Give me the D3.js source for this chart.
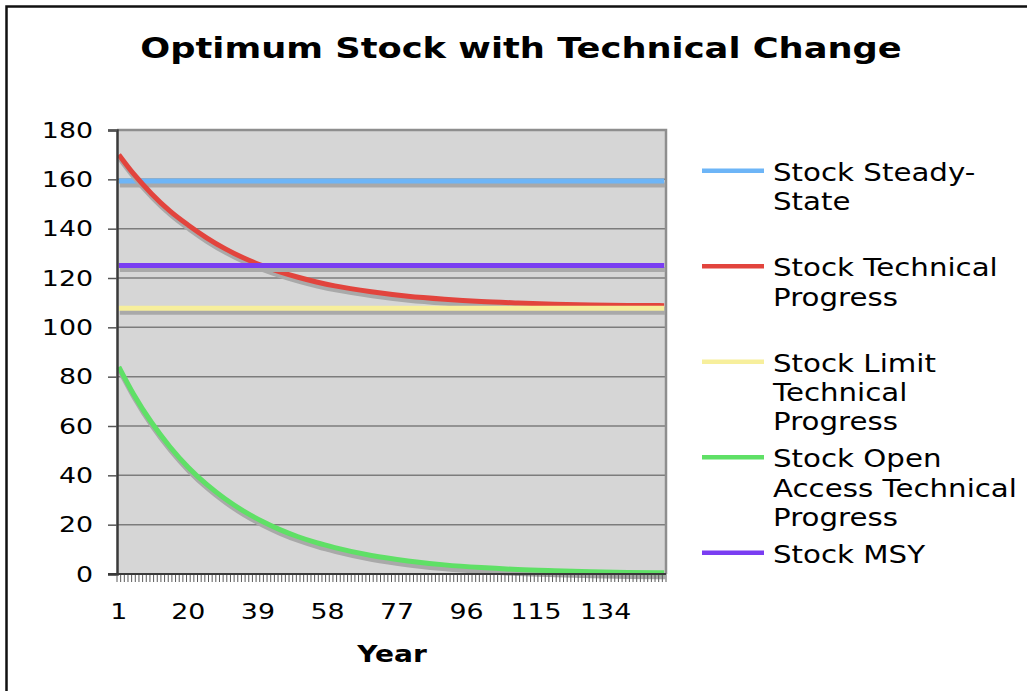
<!DOCTYPE html>
<html>
<head>
<meta charset="utf-8">
<script src="https://cdn.jsdelivr.net/npm/d3@7"></script>
<style>
    body { margin: 0; background: #fff; }
    text { font-family: "DejaVu Sans", Verdana, sans-serif; fill: #000; }
</style>
</head>
<body>
<div id="chart"></div>
<script>

// categories (years 1..150) and labelled ticks
let years = d3.range(1, 151);
let tickYears = [1, 20, 39, 58, 77, 96, 115, 134];
let yTicks = [0, 20, 40, 60, 80, 100, 120, 140, 160, 180];

let sampleYears = [1, 5, 10, 15, 20, 25, 30, 35, 40, 45, 50, 55, 60, 70, 80, 90, 100, 110, 120, 130, 140, 150];
let stockTechProgress = [170, 162.3, 154.1, 147.1, 141.4, 136.3, 131.9, 128.2, 125.1, 122.5, 120.3, 118.4, 116.8, 114.4, 112.6, 111.4, 110.5, 109.9, 109.4, 109.1, 108.9, 108.8];
let stockOpenAccess = [84, 73.0, 61.3, 51.5, 43.2, 36.3, 30.5, 25.6, 21.5, 18.0, 15.1, 12.7, 10.7, 7.5, 5.3, 3.7, 2.6, 1.8, 1.3, 0.9, 0.6, 0.5];

// flat series
let stockSteadyState = 159.3;
let stockLimit = 107.7;
let stockMSY = 125.1;

let seriesNames = ["Stock Steady-State", "Stock Technical Progress", "Stock Limit Technical Progress", "Stock Open Access Technical Progress", "Stock MSY"];
let legendLines = [["Stock Steady-", "State"], ["Stock Technical", "Progress"], ["Stock Limit", "Technical", "Progress"], ["Stock Open", "Access Technical", "Progress"], ["Stock MSY"]];
let seriesColors = ["#6db5f7", "#e2443d", "#f7ef9c", "#5fe066", "#7a3df2"];

// text in the picture is stretched sideways
const SX = 1.22;

class LineVis {

    constructor(parentElement) {
        this.parentElement = parentElement;
        this.initVis();
    }

    initVis() {
        let vis = this;

        vis.width = 1027;
        vis.height = 691;
        vis.plot = {left: 117, right: 666, top: 130, bottom: 574};

        vis.svg = d3.select("#" + vis.parentElement).append("svg")
            .attr("width", vis.width)
            .attr("height", vis.height);

        // outer frame, runs off the right and bottom edge
        vis.svg.append("rect")
            .attr("x", 6.5).attr("y", 6.5)
            .attr("width", 1200).attr("height", 900)
            .attr("fill", "#fff")
            .attr("stroke", "#111")
            .attr("stroke-width", 2.5);

        vis.x = d3.scaleBand()
            .domain(years)
            .range([vis.plot.left, vis.plot.right])
            .padding(0);

        vis.y = d3.scaleLinear()
            .domain([0, 180])
            .range([vis.plot.bottom, vis.plot.top]);

        vis.cx = d => vis.x(d) + vis.x.bandwidth() / 2;

        // title
        vis.svg.append("text")
            .attr("transform", `translate(521, 58) scale(1.26,1)`)
            .attr("text-anchor", "middle")
            .style("font-weight", "bold")
            .style("font-size", "28px")
            .text("Optimum Stock with Technical Change");

        // plot background
        vis.svg.append("rect")
            .attr("x", vis.plot.left).attr("y", vis.plot.top)
            .attr("width", vis.plot.right - vis.plot.left)
            .attr("height", vis.plot.bottom - vis.plot.top)
            .attr("fill", "#d6d6d6");

        // gridlines
        vis.svg.append("g").selectAll("line")
            .data(yTicks.slice(1))
            .enter().append("line")
            .attr("x1", vis.plot.left).attr("x2", vis.plot.right)
            .attr("y1", d => vis.y(d)).attr("y2", d => vis.y(d))
            .attr("stroke", "#7c7c7c")
            .attr("stroke-width", 1.5);

        // plot border top + right (gray)
        vis.svg.append("path")
            .attr("d", `M${vis.plot.left},${vis.plot.top}H${vis.plot.right}V${vis.plot.bottom}`)
            .attr("fill", "none")
            .attr("stroke", "#8e8e8e")
            .attr("stroke-width", 2.5);

        vis.wrangleData();
    }

    wrangleData() {
        let vis = this;

        let curve = vals => sampleYears.map((yr, i) => ({year: yr, value: vals[i]}));
        let flat = v => [{year: years[0], value: v}, {year: years[years.length - 1], value: v}];

        vis.series = [
            {name: seriesNames[0], color: seriesColors[0], values: flat(stockSteadyState)},
            {name: seriesNames[1], color: seriesColors[1], values: curve(stockTechProgress)},
            {name: seriesNames[2], color: seriesColors[2], values: flat(stockLimit)},
            {name: seriesNames[3], color: seriesColors[3], values: curve(stockOpenAccess)},
            {name: seriesNames[4], color: seriesColors[4], values: flat(stockMSY)}
        ];

        vis.updateVis();
    }

    updateVis() {
        let vis = this;

        let line = d3.line()
            .x(d => vis.cx(d.year))
            .y(d => vis.y(d.value))
            .curve(d3.curveMonotoneX);

        // shadow under each line, then the coloured line (in series order, like the original)
        vis.series.forEach(s => {
            vis.svg.append("path")
                .datum(s.values)
                .attr("d", line)
                .attr("transform", "translate(1,4)")
                .attr("fill", "none")
                .attr("stroke", "#a9a9a9")
                .attr("stroke-width", 5);

            vis.svg.append("path")
                .datum(s.values)
                .attr("d", line)
                .attr("fill", "none")
                .attr("stroke", s.color)
                .attr("stroke-width", 5);
        });

        // y axis
        let yAxis = d3.axisLeft(vis.y)
            .tickValues(yTicks)
            .tickSize(9)
            .tickPadding(0);

        let gy = vis.svg.append("g")
            .attr("transform", `translate(${vis.plot.left},0)`)
            .call(yAxis);
        gy.select(".domain").attr("stroke", "#3a3a3a").attr("stroke-width", 2.5);
        gy.selectAll(".tick line").attr("stroke", "#555").attr("stroke-width", 1.5);
        gy.selectAll(".tick text")
            .attr("x", -24 / SX)
            .attr("transform", `scale(${SX},1)`)
            .style("font-size", "22px")
            .style("font-family", "DejaVu Sans");

        // x axis: minor ticks on every category boundary
        vis.svg.append("g").selectAll("line")
            .data(years.concat(["end"]))
            .enter().append("line")
            .attr("x1", d => d === "end" ? vis.plot.right : vis.x(d))
            .attr("x2", d => d === "end" ? vis.plot.right : vis.x(d))
            .attr("y1", vis.plot.bottom)
            .attr("y2", vis.plot.bottom + 8)
            .attr("stroke", "#5a5a5a")
            .attr("stroke-width", 1);

        let xAxis = d3.axisBottom(vis.x)
            .tickValues(tickYears)
            .tickSize(0);

        let gx = vis.svg.append("g")
            .attr("transform", `translate(0,${vis.plot.bottom})`)
            .call(xAxis);
        gx.select(".domain").remove();
        gx.selectAll(".tick text")
            .attr("y", 45)
            .attr("dy", 0)
            .attr("transform", `scale(${SX},1)`)
            .style("font-size", "22px")
            .style("font-family", "DejaVu Sans");

        vis.svg.append("line")
            .attr("x1", vis.plot.left - 9).attr("x2", vis.plot.right)
            .attr("y1", vis.plot.bottom).attr("y2", vis.plot.bottom)
            .attr("stroke", "#3a3a3a")
            .attr("stroke-width", 2);

        // axis title
        vis.svg.append("text")
            .attr("transform", `translate(392, 662) scale(${SX},1)`)
            .attr("text-anchor", "middle")
            .style("font-weight", "bold")
            .style("font-size", "23px")
            .text("Year");

        // legend
        let legendTop = 170.7, legendStep = 95.5;
        let entry = vis.svg.append("g").selectAll("g")
            .data(vis.series)
            .enter().append("g")
            .attr("transform", (d, i) => `translate(702, ${legendTop + i * legendStep})`);

        entry.append("line")
            .attr("x1", 0).attr("x2", 62)
            .attr("stroke", d => d.color)
            .attr("stroke-width", 4.5);

        entry.each(function(d, i) {
            d3.select(this).selectAll("text")
                .data(legendLines[i])
                .enter().append("text")
                .attr("transform", (t, j) => `translate(71, ${10 + j * 29.3}) scale(${SX},1)`)
                .style("font-size", "24px")
                .text(t => t);
        });
    }
}

new LineVis("chart");
</script>
</body>
</html>
